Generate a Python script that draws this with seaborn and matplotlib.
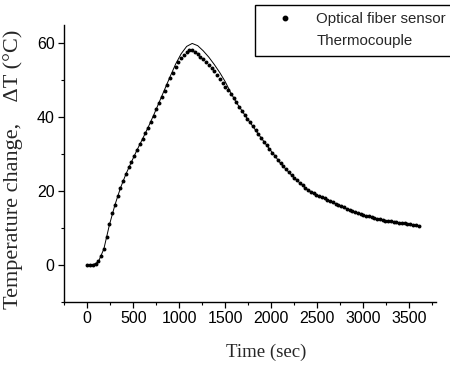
import matplotlib
matplotlib.use('Agg')
import matplotlib.pyplot as plt
import seaborn as sns
import pandas as pd
from matplotlib.ticker import MultipleLocator
from matplotlib.lines import Line2D

# ---- data ----
fiber_time = list(range(0, 3601, 30))
fiber_temp = [
    0.0, 0.0, 0.0, 0.1, 0.9, 2.4, 4.4, 7.6, 11.0, 14.0,
    16.3, 18.6, 20.9, 22.8, 24.7, 26.4, 28.0, 29.6, 31.2, 32.7,
    34.2, 35.7, 37.2, 38.8, 40.4, 42.1, 43.8, 45.5, 47.2, 48.8,
    50.5, 52.1, 53.6, 54.9, 56.0, 57.0, 57.7, 58.2, 58.1, 57.7,
    57.1, 56.4, 55.7, 55.0, 54.2, 53.3, 52.4, 51.4, 50.4, 49.4,
    48.3, 47.3, 46.2, 45.1, 44.0, 42.9, 41.8, 40.7, 39.6, 38.6,
    37.5, 36.5, 35.4, 34.4, 33.4, 32.4, 31.4, 30.4, 29.5, 28.5,
    27.5, 26.7, 25.9, 25.1, 24.3, 23.6, 22.9, 22.2, 21.5, 20.9,
    20.3, 19.8, 19.4, 19.0, 18.6, 18.3, 18.0, 17.6, 17.2, 16.9,
    16.5, 16.2, 15.9, 15.6, 15.2, 14.9, 14.6, 14.3, 14.0, 13.7,
    13.5, 13.3, 13.1, 12.9, 12.7, 12.5, 12.4, 12.2, 12.0, 11.9,
    11.8, 11.6, 11.5, 11.4, 11.3, 11.2, 11.1, 11.0, 10.8, 10.7,
    10.5,
]
thermo_time = list(range(0, 3601, 60))
thermo_temp = [
    0.0, 0.0, 0.8, 4.3, 10.8, 16.2, 20.8, 24.6, 27.9, 31.1,
    34.1, 37.2, 40.5, 44.0, 47.5, 51.0, 54.4, 57.2, 59.2, 60.0,
    59.4, 58.0, 56.3, 54.3, 52.1, 49.6, 46.6, 44.0, 41.8, 39.6,
    37.5, 35.4, 33.4, 31.4, 29.5, 27.5, 25.9, 24.3, 22.9, 21.5,
    20.3, 19.4, 18.6, 17.9, 17.2, 16.5, 15.9, 15.2, 14.6, 14.0,
    13.5, 13.1, 12.7, 12.4, 12.0, 11.8, 11.5, 11.3, 11.1, 10.9,
    10.6,
]
series_labels = ["Optical fiber sensor", "Thermocouple"]
x_label = "Time (sec)"
y_label = "Temperature change,    \u0394T (\u00b0C)"

fiber_df = pd.DataFrame({"time": fiber_time, "temp": fiber_temp})
thermo_df = pd.DataFrame({"time": thermo_time, "temp": thermo_temp})

sns.set_style("ticks")
plt.rcParams['font.family'] = ['Liberation Sans', 'DejaVu Sans']

fig = plt.figure(figsize=(4.5, 3.66), dpi=100)
ax = fig.add_axes([64.3 / 450, 1 - 301.7 / 366, (436 - 64.3) / 450, (301.7 - 25) / 366])

sns.lineplot(data=thermo_df, x="time", y="temp", ax=ax, color="black",
             linewidth=0.7, zorder=2)
sns.scatterplot(data=fiber_df, x="time", y="temp", ax=ax, color="black",
                s=8, linewidth=0, zorder=3)

ax.set_xlim(-250, 3790)
ax.set_ylim(-10, 65)
ax.xaxis.set_major_locator(MultipleLocator(500))
ax.xaxis.set_minor_locator(MultipleLocator(250))
ax.yaxis.set_major_locator(MultipleLocator(20))
ax.yaxis.set_minor_locator(MultipleLocator(10))
sns.despine(ax=ax)
for s in ["left", "bottom"]:
    ax.spines[s].set_linewidth(1.0)
    ax.spines[s].set_color("black")
ax.tick_params(which="major", direction="out", length=4, width=0.9,
               labelsize=11.5, colors="black", pad=3)
ax.tick_params(which="minor", direction="out", length=2.5, width=0.8, colors="black")

ax.set_xlabel(x_label, fontfamily=["Liberation Serif", "DejaVu Serif"], fontsize=13.5)
ax.xaxis.set_label_coords(0.544, -0.15)
ax.set_ylabel(y_label, fontfamily=["Liberation Serif", "DejaVu Serif"], fontsize=16)
ax.yaxis.set_label_coords(-0.11, 0.478)

handles = [
    Line2D([], [], linestyle="none", marker="o", markersize=3.2, color="black"),
    Line2D([], [], linestyle="none", marker=None, color="black"),
]
leg = fig.legend(handles, series_labels, loc="upper left",
                 bbox_to_anchor=(255 / 450, 1 - 5 / 366), frameon=True,
                 fancybox=False, fontsize=10.8, handlelength=3.0,
                 handletextpad=0.6, labelspacing=0.5, borderpad=0.5,
                 borderaxespad=0)
leg.get_frame().set_edgecolor("black")
leg.get_frame().set_linewidth(1.0)
leg.get_frame().set_alpha(1)

fig.savefig("out.png", dpi=100)
